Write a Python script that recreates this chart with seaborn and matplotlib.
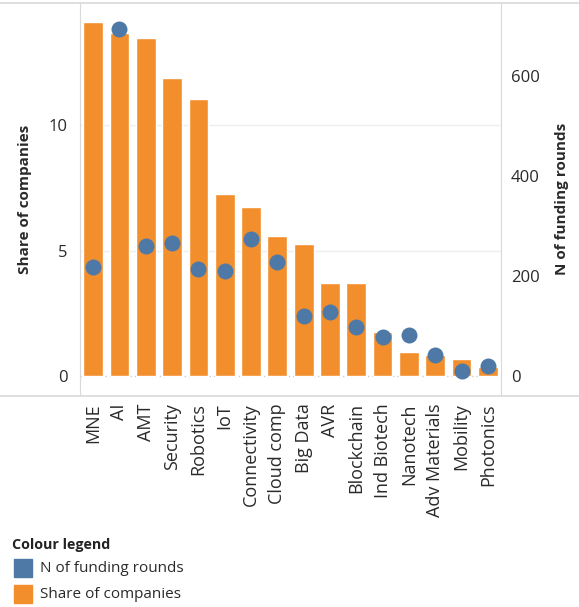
import numpy as np
import pandas as pd
import matplotlib
matplotlib.use("Agg")
import matplotlib.pyplot as plt
from matplotlib.lines import Line2D
from matplotlib.patches import Rectangle
import seaborn as sns

# Datos
technologies = ["MNE", "AI", "AMT", "Security", "Robotics", "IoT", "Connectivity",
                "Cloud comp", "Big Data", "AVR", "Blockchain", "Ind Biotech",
                "Nanotech", "Adv Materials", "Mobility", "Photonics"]
share_companies = [14.13, 13.69, 13.49, 11.87, 11.05, 7.27, 6.75, 5.60, 5.25,
                   3.72, 3.72, 1.77, 0.95, 0.83, 0.67, 0.37]
funding_rounds = [220, 695, 262, 268, 215, 211, 276, 229, 121, 130, 99, 79,
                  83, 43, 11, 21]

orange = "#F28E2B"
blue = "#4E79A7"
grey_line = "#D9D9D9"
text_col = "#2A2A2A"

df = pd.DataFrame({"tech": technologies, "share": share_companies,
                   "rounds": funding_rounds})

sns.set_style("white")
plt.rcParams["font.family"] = ["Open Sans", "DejaVu Sans"]

fig = plt.figure(figsize=(5.79, 6.07), dpi=100)
ax = fig.add_axes([80 / 579, 1 - 395 / 607, 421 / 579, 392 / 607])

sns.barplot(data=df, x="tech", y="share", color=orange, saturation=1,
            width=0.75, ax=ax, order=technologies)
ax.set_ylim(-0.76, 14.88)
ax.set_xlim(-0.5, len(technologies) - 0.5)
ax.set_yticks([0, 5, 10])
ax.set_yticklabels(["0", "5", "10"])
ax.tick_params(axis="y", length=0, pad=9, labelsize=12, labelcolor=text_col)
ax.tick_params(axis="x", which="major", length=0, pad=6, labelsize=13,
               labelcolor=text_col, rotation=90)
ax.set_xticks(np.arange(-0.5, len(technologies)), minor=True)
ax.tick_params(axis="x", which="minor", length=5, color=grey_line, width=1)
for lbl in ax.get_xticklabels():
    lbl.set_verticalalignment("top")
ax.set_xlabel("")
ax.set_ylabel("Share of companies", fontsize=11, fontweight="bold",
              color=text_col, labelpad=12)
for y in [5, 10]:
    ax.axhline(y, color="#EEEEEE", lw=1, zorder=0)
ax.axhline(0, color="#CCCCCC", lw=1, ls=(0, (1, 2)), zorder=0)
for s in ["left", "right"]:
    ax.spines[s].set_color(grey_line)
for s in ["top", "bottom"]:
    ax.spines[s].set_visible(False)

ax2 = ax.twinx()
sns.stripplot(data=df, x="tech", y="rounds", order=technologies, jitter=False,
              color=blue, size=11.5, ax=ax2, zorder=5)
ax2.set_xlim(-0.5, len(technologies) - 0.5)
ax2.set_ylim(-37, 747)
ax2.set_yticks([0, 200, 400, 600])
ax2.tick_params(axis="y", length=0, pad=7, labelsize=12, labelcolor=text_col)
ax2.set_ylabel("N of funding rounds", fontsize=11, fontweight="bold",
               color=text_col, labelpad=11)
for s in ax2.spines.values():
    s.set_visible(False)

# líneas del marco (estilo Tableau)
fig.add_artist(Line2D([0, 1], [1 - 3 / 607, 1 - 3 / 607], color=grey_line, lw=1.2))
fig.add_artist(Line2D([0, 1], [1 - 396 / 607, 1 - 396 / 607], color=grey_line, lw=1.2))

# leyenda
fig.text(12 / 579, 1 - 545 / 607, "Colour legend", fontsize=10.3, fontweight="bold",
         color="#222222", va="center")
for i, (lab, col) in enumerate([("N of funding rounds", blue),
                                ("Share of companies", orange)]):
    yc = 568 + i * 26
    fig.add_artist(Rectangle((14 / 579, 1 - (yc + 9) / 607), 18 / 579, 18 / 607,
                             color=col, transform=fig.transFigure))
    fig.text(40 / 579, 1 - yc / 607, lab, fontsize=11, color=text_col, va="center")

fig.savefig("out.png", dpi=100)
